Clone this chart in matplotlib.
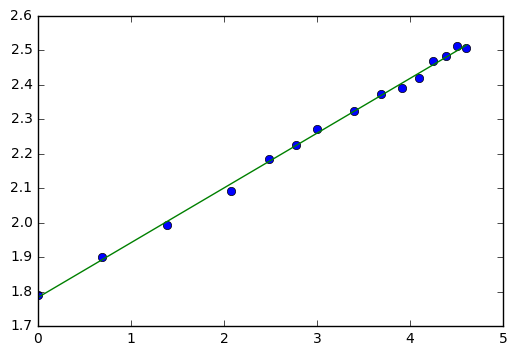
import numpy as np
import matplotlib
matplotlib.use('Agg')
import matplotlib.pyplot as plt

plt.style.use('classic')

# log of the sizes
x = np.log([1, 2, 4, 8, 12, 16, 20, 30, 40, 50, 60, 70, 80, 90, 100])
y = [1.790, 1.900, 1.993, 2.092, 2.185, 2.225, 2.272, 2.324, 2.374,
     2.391, 2.420, 2.469, 2.484, 2.513, 2.507]

slope, intercept = np.polyfit(x, y, 1)

fig = plt.figure(figsize=(5.17, 3.56), dpi=100)
ax = fig.add_axes([0.0735, 0.084, 0.8995, 0.871])
ax.plot(x, y, 'o')
ax.plot(x, slope * x + intercept, 'g-')
ax.set_xlim(0, 5)
ax.set_ylim(1.7, 2.6)
ax.set_yticks(np.arange(1.7, 2.61, 0.1))
ax.tick_params(labelsize=10)

fig.savefig('out.png', dpi=100)
